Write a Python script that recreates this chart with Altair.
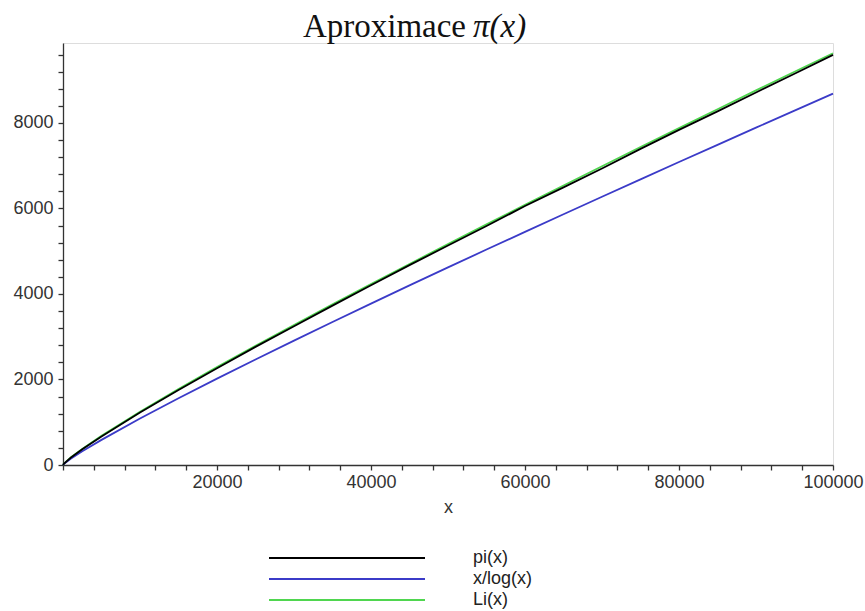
import altair as alt
import pandas as pd

# Sample points along x
xs = [0, 100, 1000, 2500, 5000, 10000, 15000, 20000, 25000, 30000, 35000,
      40000, 45000, 50000, 55000, 60000, 65000, 70000, 75000, 80000, 85000,
      90000, 95000, 100000]

# prime counting function pi(x)
pi_vals = [0, 25, 168, 367, 669, 1229, 1754, 2262, 2762, 3245, 3727, 4203,
           4675, 5133, 5589, 6057, 6493, 6935, 7393, 7837, 8270, 8713, 9151, 9592]

# x / log(x)
xlog_vals = [0, 21.7, 144.8, 319.5, 587.0, 1085.7, 1559.9, 2019.5, 2468.8,
             2910.0, 3345.0, 3774.8, 4199.9, 4621.2, 5038.9, 5453.5, 5865.3,
             6274.6, 6681.5, 7086.1, 7488.7, 7889.5, 8288.5, 8685.9]

# logarithmic integral Li(x)
li_vals = [0, 30.1, 177.6, 376, 684, 1246, 1775, 2289, 2787, 3276, 3757, 4232,
           4702, 5167, 5628, 6085, 6538, 6988, 7436, 7880, 8322, 8762, 9199, 9630]

series_names = ["pi(x)", "x/log(x)", "Li(x)"]
series_colors = ["#000000", "#3b3bc8", "#4fd64f"]

x_ticks = list(range(0, 100001, 4000))
y_ticks = list(range(0, 9601, 400))

rows = []
# drawn back to front: Li, x/log, pi
for name, vals in [("Li(x)", li_vals), ("x/log(x)", xlog_vals), ("pi(x)", pi_vals)]:
    for i, (x, v) in enumerate(zip(xs, vals)):
        rows.append({"x": x, "y": v, "series": name, "order": i})
df = pd.DataFrame(rows)

label_font = "Liberation Sans"
color_scale = alt.Scale(domain=series_names, range=series_colors)

lines = alt.Chart(df).mark_line(strokeWidth=1.8).encode(
    x=alt.X("x:Q",
            scale=alt.Scale(domain=[0, 100000], nice=False, zero=False),
            axis=alt.Axis(values=x_ticks, title="x", grid=False,
                          labelExpr="datum.value % 20000 === 0 && datum.value > 0 ? format(datum.value, 'd') : ''",
                          tickSize=5, tickWidth=1.3,
                          labelPadding=3, titlePadding=7,
                          labelFont=label_font, labelFontSize=18, labelColor="#333",
                          titleFont=label_font, titleFontSize=18, titleFontWeight="normal",
                          titleColor="#333", domainColor="#333", domainWidth=1.3,
                          tickColor="#333",
                          labelFlush=False, labelOverlap=False)),
    y=alt.Y("y:Q",
            scale=alt.Scale(domain=[0, 9870], nice=False),
            axis=alt.Axis(values=y_ticks, title=None, grid=False,
                          labelExpr="datum.value % 2000 === 0 ? format(datum.value, 'd') : ''",
                          tickSize=5, tickWidth=1.3,
                          labelPadding=5,
                          labelFont=label_font, labelFontSize=18, labelColor="#333",
                          domainColor="#333", domainWidth=1.3, tickColor="#333",
                          labelFlush=False, labelOverlap=False)),
    color=alt.Color("series:N", scale=color_scale, legend=None),
    detail="series:N",
    order="order:Q",
)

# legend below the plot
legend_df = pd.DataFrame({"series": series_names})
legend_y = alt.Y("series:N",
                 scale=alt.Scale(type="point", domain=series_names, range=[515, 557], padding=0),
                 axis=None)
legend_lines = alt.Chart(legend_df).mark_rule(strokeWidth=1.8).encode(
    x=alt.value(206), x2=alt.value(362), y=legend_y,
    color=alt.Color("series:N", scale=color_scale, legend=None),
)
legend_text = alt.Chart(legend_df).mark_text(
    align="left", baseline="middle", font=label_font, fontSize=18, color="#222"
).encode(x=alt.value(410), y=legend_y, text="series:N")

# title: upright word, italic pi(x)
title_a = alt.Chart(pd.DataFrame({"t": ["Aproximace"]})).mark_text(
    align="right", baseline="alphabetic", font="Liberation Serif", fontSize=33, color="#111"
).encode(x=alt.value(403), y=alt.value(-6), text="t:N")
title_b = alt.Chart(pd.DataFrame({"t": ["\u03c0(x)"]})).mark_text(
    align="left", baseline="alphabetic", font="Liberation Serif", fontSize=33,
    fontStyle="italic", color="#111"
).encode(x=alt.value(410), y=alt.value(-6), text="t:N")

chart = alt.layer(lines, legend_lines, legend_text, title_a, title_b).resolve_scale(
    y="independent"
).properties(
    width=770, height=422,
    autosize="none",
    padding={"left": 63, "top": 43, "right": 32, "bottom": 146},
).configure_view(stroke=None).configure(background="white")

chart.save("out.html", embed_options={"renderer": "svg", "actions": False})
